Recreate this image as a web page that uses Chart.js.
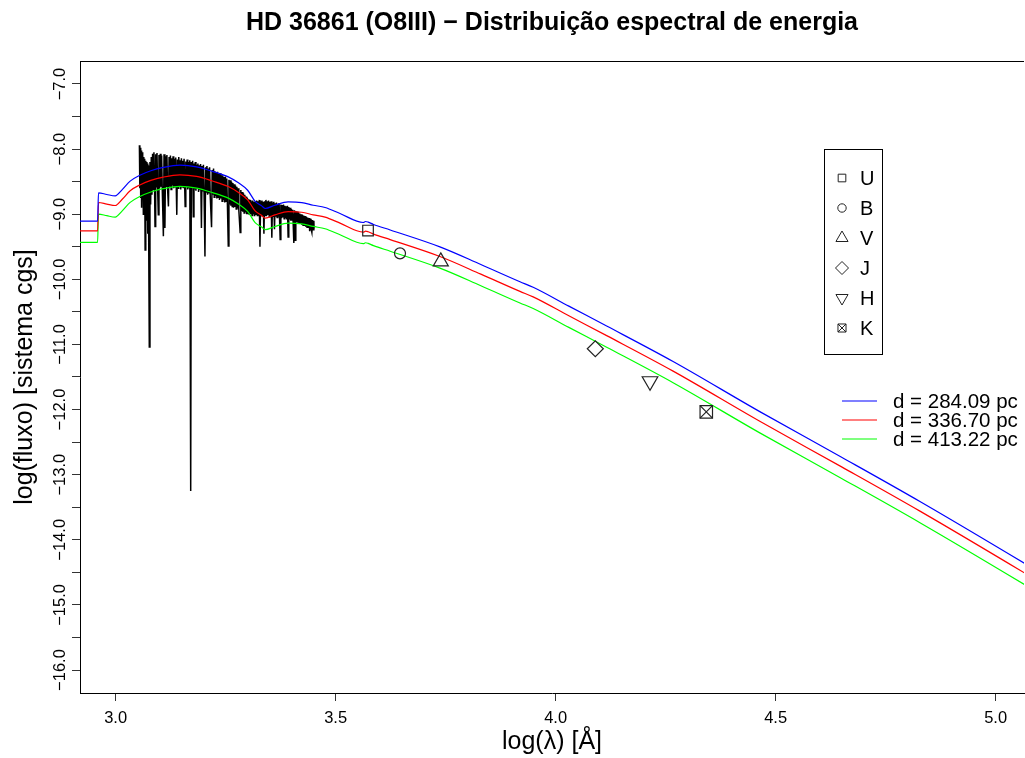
<!DOCTYPE html>
<html lang="pt">
<head>
<meta charset="utf-8">
<title>HD 36861 - Distribuição espectral de energia</title>
<script src="https://cdn.jsdelivr.net/npm/chart.js"></script>
<style>
  html, body { margin: 0; padding: 0; background: #fff; }
  canvas { display: block; }
</style>
</head>
<body>
<canvas id="grafico" width="1025" height="758"></canvas>
<script>
const titulo = "HD 36861 (O8III) \u2212 Distribuição espectral de energia";
const tituloX = "log(\u03BB) [\u00C5]";
const tituloY = "log(fluxo) [sistema cgs]";

// espectro observado (log lambda, log fluxo)
const espectroX = [
  3.054, 3.055, 3.056, 3.057, 3.058, 3.059, 3.060, 3.061, 3.062, 3.063,
  3.064, 3.065, 3.066, 3.067, 3.068, 3.069, 3.070, 3.071, 3.072, 3.073,
  3.074, 3.075, 3.0765, 3.078, 3.0795, 3.081, 3.0825, 3.084, 3.0855, 3.087,
  3.0885, 3.0895, 3.091, 3.0925, 3.094, 3.0955, 3.097, 3.0985, 3.100, 3.1015,
  3.103, 3.1045, 3.106, 3.1085, 3.110, 3.112, 3.1135, 3.115, 3.1165, 3.118,
  3.120, 3.1215, 3.123, 3.1245, 3.126, 3.1275, 3.129, 3.1305, 3.132, 3.1335,
  3.135, 3.1365, 3.139, 3.1405, 3.142, 3.1435, 3.145, 3.1465, 3.148, 3.1495,
  3.151, 3.1525, 3.154, 3.1555, 3.158, 3.1595, 3.161, 3.1625, 3.164, 3.1655,
  3.167, 3.1685, 3.1706, 3.172, 3.1735, 3.175, 3.1765, 3.178, 3.1795, 3.181,
  3.1825, 3.184, 3.1855, 3.187, 3.1885, 3.190, 3.1915, 3.193, 3.195, 3.1965,
  3.198, 3.1995, 3.201, 3.203, 3.2045, 3.206, 3.2075, 3.209, 3.2105, 3.212,
  3.2135, 3.215, 3.218, 3.2195, 3.221, 3.2225, 3.224, 3.2255, 3.227, 3.2285,
  3.230, 3.2315, 3.233, 3.2345, 3.236, 3.2375, 3.239, 3.2405, 3.242, 3.2435,
  3.245, 3.2465, 3.248, 3.2495, 3.251, 3.2525, 3.254, 3.256, 3.2575, 3.259,
  3.2605, 3.262, 3.2635, 3.265, 3.2665, 3.268, 3.2695, 3.271, 3.2725, 3.274,
  3.2755, 3.277, 3.2785, 3.280, 3.283, 3.2845, 3.286, 3.2875, 3.289, 3.2905,
  3.292, 3.2935, 3.295, 3.2965, 3.298, 3.2995, 3.301, 3.3025, 3.304, 3.3055,
  3.307, 3.3085, 3.310, 3.3115, 3.313, 3.3145, 3.316, 3.3175, 3.319, 3.3205,
  3.322, 3.3235, 3.325, 3.3265, 3.328, 3.3295, 3.331, 3.3325, 3.334, 3.3355,
  3.337, 3.3385, 3.340, 3.3415, 3.343, 3.3445, 3.346, 3.3475, 3.349, 3.3505,
  3.352, 3.3535, 3.355, 3.3565, 3.358, 3.3595, 3.361, 3.3625, 3.364, 3.3655,
  3.367, 3.3685, 3.370, 3.3715, 3.374, 3.3755, 3.377, 3.3785, 3.380, 3.3815,
  3.383, 3.3845, 3.386, 3.3875, 3.389, 3.3905, 3.392, 3.3935, 3.395, 3.3965,
  3.398, 3.3995, 3.401, 3.4025, 3.405, 3.4065, 3.408, 3.4095, 3.411, 3.4125,
  3.414, 3.4155, 3.417, 3.4185, 3.420, 3.4215, 3.423, 3.4245, 3.426, 3.4275,
  3.429, 3.4305, 3.432, 3.4335, 3.435, 3.4365, 3.438, 3.4395, 3.441, 3.4425,
  3.444, 3.446, 3.4475, 3.449, 3.4505, 3.451
];
const espectroY = [
  -7.94, -8.60, -7.98, -8.75, -8.02, -8.90, -8.05, -8.70, -8.10, -9.00,
  -8.12, -8.80, -8.15, -9.55, -8.18, -8.95, -8.20, -9.10, -8.22, -9.30,
  -8.25, -9.20, -11.04, -8.20, -8.85, -8.12, -8.70, -8.07, -8.62, -8.05,
  -8.60, -9.19, -8.08, -8.58, -8.06, -8.62, -9.01, -8.09, -8.60, -8.07,
  -8.58, -8.10, -8.62, -9.34, -8.08, -9.21, -8.11, -8.57, -8.09, -8.60,
  -8.88, -8.12, -8.58, -8.10, -8.62, -8.14, -8.56, -8.11, -8.60, -8.15,
  -8.58, -8.13, -9.01, -8.16, -8.60, -8.12, -8.57, -8.17, -8.62, -8.14,
  -8.58, -8.18, -8.60, -8.15, -8.88, -8.19, -8.58, -8.16, -8.62, -8.20,
  -8.59, -8.17, -13.25, -8.20, -8.60, -8.18, -9.04, -8.22, -8.62, -8.20,
  -8.64, -8.24, -8.60, -8.22, -8.66, -8.25, -8.63, -8.23, -9.21, -8.26,
  -8.65, -8.24, -8.68, -9.65, -8.28, -8.66, -8.26, -8.70, -8.30, -8.68,
  -8.28, -8.72, -9.20, -8.32, -8.70, -8.30, -8.74, -8.34, -8.72, -8.36,
  -8.76, -8.35, -8.74, -8.38, -8.78, -8.37, -8.76, -8.40, -8.80, -8.40,
  -8.78, -8.43, -8.82, -8.42, -8.80, -8.45, -8.84, -9.49, -8.47, -8.85,
  -8.48, -8.87, -8.50, -8.88, -8.52, -8.90, -8.54, -8.89, -8.56, -8.92,
  -8.58, -8.91, -8.60, -8.94, -9.28, -8.63, -8.95, -8.66, -8.96, -8.68,
  -8.98, -8.70, -8.97, -8.73, -9.00, -8.75, -8.99, -8.77, -9.01, -8.78,
  -9.00, -8.80, -9.02, -8.79, -9.00, -8.81, -9.03, -8.80, -9.01, -8.79,
  -9.02, -8.80, -9.00, -8.78, -9.50, -8.80, -9.02, -8.79, -9.04, -8.81,
  -9.30, -8.80, -9.02, -8.78, -9.03, -8.80, -9.01, -8.79, -9.04, -8.81,
  -9.02, -8.80, -9.36, -8.82, -9.03, -8.81, -9.23, -8.83, -9.04, -8.82,
  -9.05, -8.84, -9.04, -8.83, -9.39, -8.85, -9.06, -8.86, -9.05, -8.85,
  -9.07, -8.87, -9.06, -8.88, -9.08, -8.87, -9.35, -8.89, -9.08, -8.90,
  -9.10, -8.92, -9.09, -8.93, -9.44, -8.94, -9.40, -8.95, -9.12, -8.96,
  -9.13, -8.97, -9.14, -8.99, -9.15, -9.00, -9.16, -9.01, -9.17, -9.02,
  -9.18, -9.03, -9.19, -9.04, -9.20, -9.05, -9.21, -9.06, -9.26, -9.07,
  -9.22, -9.28, -9.09, -9.24, -9.10, -9.22
];

// modelos para as tres distancias (mesma grade em log lambda)
const modeloX = [
  2.90, 2.959, 2.961, 2.98, 2.999, 3.015, 3.033, 3.055, 3.08, 3.108,
  3.146, 3.184, 3.22, 3.256, 3.28, 3.30, 3.317, 3.332, 3.340, 3.362,
  3.392, 3.423, 3.449, 3.476, 3.51, 3.563, 3.568, 3.574, 3.586, 3.624,
  3.737, 3.83, 3.919, 3.949, 4.03, 4.116, 4.267, 4.464, 4.65, 4.828,
  5.067, 5.10
];
const modelo284 = [
  -9.107, -9.107, -8.672, -8.697, -8.718, -8.622, -8.492, -8.402, -8.332, -8.282,
  -8.247, -8.272, -8.342, -8.427, -8.522, -8.632, -8.802, -8.872, -8.912, -8.862,
  -8.812, -8.822, -8.862, -8.897, -8.989, -9.127, -9.112, -9.122, -9.157, -9.242,
  -9.502, -9.772, -10.037, -10.122, -10.412, -10.717, -11.262, -12.032, -12.732, -13.412,
  -14.367, -14.502
];
const modelo337 = [
  -9.255, -9.255, -8.82, -8.845, -8.866, -8.77, -8.64, -8.55, -8.48, -8.43,
  -8.395, -8.42, -8.49, -8.575, -8.67, -8.78, -8.95, -9.02, -9.06, -9.01,
  -8.96, -8.97, -9.01, -9.045, -9.137, -9.275, -9.26, -9.27, -9.305, -9.39,
  -9.65, -9.92, -10.185, -10.27, -10.56, -10.865, -11.41, -12.18, -12.88, -13.56,
  -14.515, -14.65
];
const modelo413 = [
  -9.433, -9.433, -8.998, -9.023, -9.044, -8.948, -8.818, -8.728, -8.658, -8.608,
  -8.573, -8.598, -8.668, -8.753, -8.848, -8.958, -9.128, -9.198, -9.238, -9.188,
  -9.138, -9.148, -9.188, -9.223, -9.315, -9.453, -9.438, -9.448, -9.483, -9.568,
  -9.828, -10.098, -10.363, -10.448, -10.738, -11.043, -11.588, -12.358, -13.058, -13.738,
  -14.693, -14.828
];
const rotulosModelo = ["d = 284.09 pc", "d = 336.70 pc", "d = 413.22 pc"];

// fotometria
const bandas = ["U", "B", "V", "J", "H", "K"];
const lambdaBandas = [3.5736, 3.6463, 3.739, 4.0902, 4.2145, 4.3424];
const fluxoBandas = [-9.251, -9.601, -9.727, -11.066, -11.565, -12.036];

// eixos
const limitesX = [2.919, 5.0645];
const limitesY = [-16.353, -6.647];
const marcasX = [3.0, 3.5, 4.0, 4.5, 5.0];
const marcasY = [-16, -15.5, -15, -14.5, -14, -13.5, -13, -12.5, -12, -11.5, -11, -10.5, -10, -9.5, -9, -8.5, -8, -7.5, -7];
const rotulosY = [-16, -15, -14, -13, -12, -11, -10, -9, -8, -7];

const fonte = '"Liberation Sans", Arial, Helvetica, sans-serif';
const coresModelo = ["#0000ff", "#ff0000", "#00ff00"];
// simbolo de cada banda: estilo do Chart.js, raio, rotacao
const simbolos = {
  U: { estilo: "rect", raio: 7.5, rot: 0, raioLeg: 5.4 },
  B: { estilo: "circle", raio: 5.5, rot: 0, raioLeg: 4.2 },
  V: { estilo: "triangle", raio: 8.7, rot: 0, raioLeg: 7 },
  J: { estilo: "rectRot", raio: 8, rot: 0, raioLeg: 6.5 },
  H: { estilo: "triangle", raio: 9, rot: 180, raioLeg: 7 },
  K: { estilo: "rect", raio: 8.8, rot: 0, raioLeg: 5.7 }
};

function pontos(xs, ys) {
  return xs.map((x, i) => ({ x: x, y: ys[i] }));
}

function simboloBanda(banda, i, estilo, raio, rot) {
  return {
    label: banda,
    data: [{ x: lambdaBandas[i], y: fluxoBandas[i] }],
    showLine: false,
    pointStyle: estilo,
    pointRadius: raio,
    pointRotation: rot,
    pointBorderColor: "#222",
    pointBackgroundColor: "rgba(0,0,0,0)",
    pointBorderWidth: 1.2,
    order: 0
  };
}

const datasets = [];
datasets.push({
  label: "espectro",
  data: pontos(espectroX, espectroY),
  borderColor: "#000",
  borderWidth: 1.5,
  pointRadius: 0,
  order: 5
});
[modelo284, modelo337, modelo413].forEach((serie, i) => {
  datasets.push({
    label: rotulosModelo[i],
    data: pontos(modeloX, serie),
    borderColor: coresModelo[i],
    borderWidth: 1.2,
    pointRadius: 0,
    cubicInterpolationMode: "monotone",
    order: 2
  });
});
bandas.forEach((banda, i) => {
  const s = simbolos[banda];
  datasets.push(simboloBanda(banda, i, s.estilo, s.raio, s.rot));
});
// o K leva um X dentro do quadrado
datasets.push(simboloBanda("K", 5, "crossRot", simbolos.K.raio, 0));

function desenhaSimbolo(ctx, estilo, raio, rot, x, y) {
  if (Chart.helpers && Chart.helpers.drawPoint) {
    Chart.helpers.drawPoint(ctx, { pointStyle: estilo, radius: raio, rotation: rot, borderWidth: 1 }, x, y);
  }
}

const textos = {
  id: "textos",
  afterDraw(chart) {
    const { ctx, chartArea: area, scales } = chart;
    const sx = scales.x, sy = scales.y;
    const centro = (area.left + area.right) / 2;
    ctx.save();
    ctx.fillStyle = "#000";
    ctx.strokeStyle = "#000";
    ctx.lineWidth = 1;

    // linha de cima da caixa
    ctx.beginPath();
    ctx.moveTo(area.left, area.top + 0.5);
    ctx.lineTo(area.right, area.top + 0.5);
    ctx.stroke();

    ctx.textAlign = "center";
    ctx.textBaseline = "middle";
    ctx.font = "bold 25px " + fonte;
    ctx.fillText(titulo, centro, 23);

    ctx.font = "16.5px " + fonte;
    marcasX.forEach((v) => ctx.fillText(v.toFixed(1), sx.getPixelForValue(v), area.bottom + 25));
    rotulosY.forEach((v) => {
      ctx.save();
      ctx.translate(area.left - 20, sy.getPixelForValue(v));
      ctx.rotate(-Math.PI / 2);
      ctx.fillText(v.toFixed(1).replace("-", "\u2212"), 0, 0);
      ctx.restore();
    });

    ctx.font = "25px " + fonte;
    ctx.fillText(tituloX, centro, area.bottom + 49);
    ctx.save();
    ctx.translate(25, (area.top + area.bottom) / 2);
    ctx.rotate(-Math.PI / 2);
    ctx.fillText(tituloY, 0, 0);
    ctx.restore();

    // legenda da fotometria
    ctx.strokeStyle = "#000";
    ctx.strokeRect(824.5, 149.5, 58, 205);
    ctx.textAlign = "left";
    ctx.font = "20px " + fonte;
    bandas.forEach((banda, i) => {
      const yy = 178 + i * 30;
      const s = simbolos[banda];
      ctx.strokeStyle = "#222";
      ctx.fillStyle = "rgba(0,0,0,0)";
      desenhaSimbolo(ctx, s.estilo, s.raioLeg, s.rot, 842, yy);
      if (banda === "K") desenhaSimbolo(ctx, "crossRot", s.raioLeg, 0, 842, yy);
      ctx.fillStyle = "#000";
      ctx.fillText(banda, 860, yy + 1);
    });

    // legenda das distancias
    ctx.font = "20.5px " + fonte;
    rotulosModelo.forEach((txt, i) => {
      const yy = 401 + i * 19;
      ctx.strokeStyle = coresModelo[i];
      ctx.lineWidth = 1.2;
      ctx.beginPath();
      ctx.moveTo(842, yy);
      ctx.lineTo(877, yy);
      ctx.stroke();
      ctx.fillText(txt, 893, yy + 1);
    });
    ctx.restore();
  }
};

const grafico = new Chart(document.getElementById("grafico"), {
  type: "line",
  data: { datasets },
  options: {
    responsive: false,
    animation: false,
    events: [],
    devicePixelRatio: 1,
    layout: { autoPadding: false, padding: { top: 61, right: 1, left: 0, bottom: 0 } },
    elements: { line: { tension: 0 } },
    plugins: { legend: { display: false }, title: { display: false }, tooltip: { enabled: false } },
    scales: {
      x: {
        type: "linear",
        min: limitesX[0],
        max: limitesX[1],
        afterBuildTicks: (s) => { s.ticks = marcasX.map((v) => ({ value: v })); },
        afterFit: (s) => { s.height = 65; },
        ticks: { display: false },
        grid: { drawOnChartArea: false, drawTicks: true, tickLength: 8, tickColor: "#333", color: "#333" },
        border: { display: true, color: "#000", width: 1 }
      },
      y: {
        type: "linear",
        min: limitesY[0],
        max: limitesY[1],
        afterBuildTicks: (s) => { s.ticks = marcasY.map((v) => ({ value: v })); },
        afterFit: (s) => { s.width = 80; },
        ticks: { display: false },
        grid: { drawOnChartArea: false, drawTicks: true, tickLength: 8, tickColor: "#333", color: "#333" },
        border: { display: true, color: "#000", width: 1 }
      }
    }
  },
  plugins: [textos]
});
</script>
</body>
</html>
